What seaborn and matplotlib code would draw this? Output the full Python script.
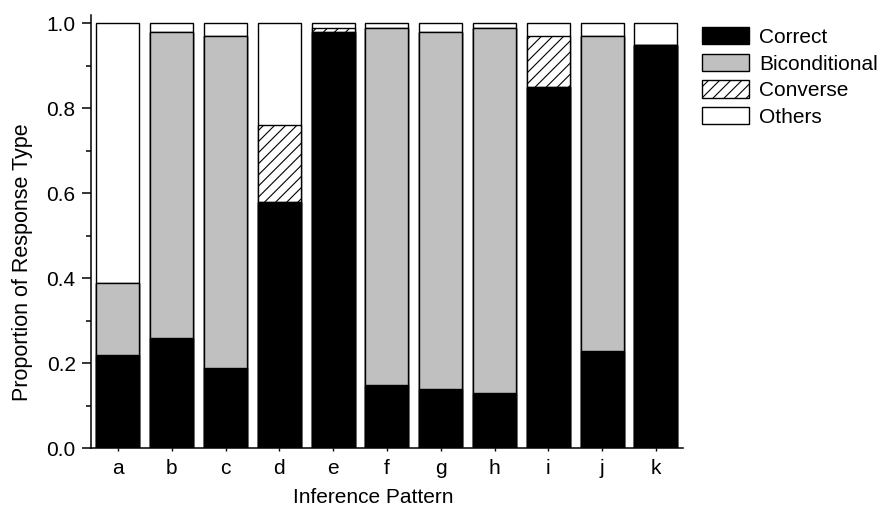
import numpy as np
import pandas as pd
import matplotlib
matplotlib.use("Agg")
import matplotlib.pyplot as plt
import seaborn as sns
from matplotlib.patches import Patch

# proportions
patterns = ["a", "b", "c", "d", "e", "f", "g", "h", "i", "j", "k"]
correct = [0.22, 0.26, 0.19, 0.58, 0.98, 0.15, 0.14, 0.13, 0.85, 0.23, 0.95]
biconditional = [0.17, 0.72, 0.78, 0.00, 0.00, 0.84, 0.84, 0.86, 0.00, 0.74, 0.00]
converse = [0.00, 0.00, 0.00, 0.18, 0.01, 0.00, 0.00, 0.00, 0.12, 0.00, 0.00]
others = [0.61, 0.02, 0.03, 0.24, 0.01, 0.01, 0.02, 0.01, 0.03, 0.03, 0.05]

sns.set_style("ticks", {"axes.edgecolor": "black", "text.color": "black",
                        "axes.labelcolor": "black", "xtick.color": "black",
                        "ytick.color": "black"})
plt.rcParams["font.family"] = ["Liberation Sans", "DejaVu Sans"]
plt.rcParams["hatch.linewidth"] = 0.8

df = pd.DataFrame({"Pattern": patterns, "Correct": correct,
                   "Biconditional": biconditional, "Converse": converse,
                   "Others": others})
# cumulative tops, drawn from the tallest down so lower segments cover upper ones
df["cum_correct"] = df["Correct"]
df["cum_bicond"] = df["cum_correct"] + df["Biconditional"]
df["cum_converse"] = df["cum_bicond"] + df["Converse"]
df["cum_others"] = df["cum_converse"] + df["Others"]

fig = plt.figure(figsize=(8.86, 5.08), dpi=100)
ax = fig.add_axes([0.1027, 0.1175, 0.668, 0.853])

layers = [("cum_others", "white", ""),
          ("cum_converse", "white", "///"),
          ("cum_bicond", "#c0c0c0", ""),
          ("cum_correct", "black", "")]
for col, fc, hatch in layers:
    sns.barplot(data=df, x="Pattern", y=col, color=fc, saturation=1,
                edgecolor="black", linewidth=1.0, width=0.8, hatch=hatch,
                ax=ax, errorbar=None)

ax.set_xlim(-0.5, 10.5)
ax.set_ylim(0, 1.02)
ax.set_yticks(np.arange(0, 1.01, 0.2))
ax.set_yticks(np.arange(0.1, 1.0, 0.2), minor=True)
ax.set_yticklabels(["0.0", "0.2", "0.4", "0.6", "0.8", "1.0"])
ax.tick_params(axis="y", which="major", length=6.5, width=1.1, labelsize=15, pad=4.5)
ax.tick_params(axis="y", which="minor", length=3.5, width=1.1)
ax.tick_params(axis="x", length=2, width=1.0, labelsize=15, pad=6)
for side in ["top", "right"]:
    ax.spines[side].set_visible(False)
for side in ["left", "bottom"]:
    ax.spines[side].set_linewidth(1.1)
ax.set_xlabel("Inference Pattern", fontsize=15)
ax.set_ylabel("Proportion of Response Type", fontsize=15.5)
ax.xaxis.set_label_coords(0.477, -0.092)
ax.yaxis.set_label_coords(-0.0975, 0.43)

handles = [Patch(facecolor="black", edgecolor="black", linewidth=1.0),
           Patch(facecolor="#c0c0c0", edgecolor="black", linewidth=1.0),
           Patch(facecolor="white", edgecolor="black", linewidth=1.0, hatch="///"),
           Patch(facecolor="white", edgecolor="black", linewidth=1.0)]
fig.legend(handles, ["Correct", "Biconditional", "Converse", "Others"],
           loc="upper left", bbox_to_anchor=(702 / 886, 1 - 27 / 508),
           frameon=False, fontsize=15, handlelength=2.25, handleheight=0.9,
           handletextpad=0.5, labelspacing=0.33, borderpad=0, borderaxespad=0)

fig.savefig("out.png", dpi=100)
